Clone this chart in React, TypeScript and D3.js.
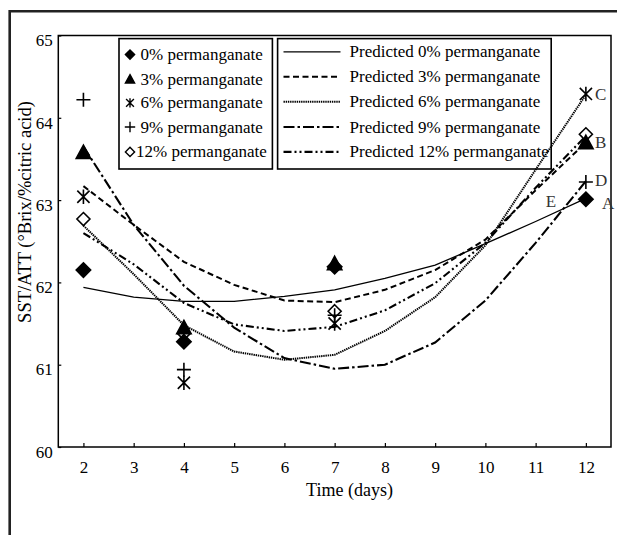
import React, { useEffect, useRef } from 'react';
import * as d3 from 'd3';

// observed values (days 2, 4, 7, 12)
const days = [2, 4, 7, 12];
const obs0 = [62.15, 61.28, 62.19, 63.01];
const obs3 = [63.58, 61.45, 62.23, 63.7];
const obs6 = [63.04, 60.78, 61.5, 64.29];
const obs9 = [64.22, 60.94, 61.6, 63.22];
const obs12 = [62.77, 61.38, 61.65, 63.8];

// predicted curves, one value per day
const predDays = [2, 3, 4, 5, 6, 7, 8, 9, 10, 11, 12];
const pred0 = [61.94, 61.82, 61.77, 61.77, 61.83, 61.91, 62.05, 62.21, 62.47, 62.74, 63.02];
const pred3 = [63.17, 62.7, 62.25, 61.97, 61.78, 61.76, 61.91, 62.15, 62.52, 63.12, 63.7];
const pred6 = [62.69, 62.1, 61.48, 61.16, 61.06, 61.12, 61.41, 61.82, 62.45, 63.37, 64.28];
const pred9 = [63.65, 62.7, 61.96, 61.45, 61.08, 60.95, 61.0, 61.27, 61.78, 62.48, 63.23];
const pred12 = [62.6, 62.22, 61.75, 61.49, 61.41, 61.46, 61.66, 61.99, 62.48, 63.15, 63.78];

const xTicks = [2, 3, 4, 5, 6, 7, 8, 9, 10, 11, 12];
const yTicks = [60, 61, 62, 63, 64, 65];

const obsLabels = ['0% permanganate', '3% permanganate', '6% permanganate', '9% permanganate', '12% permanganate'];
const predLabels = ['Predicted 0% permanganate', 'Predicted 3% permanganate', 'Predicted 6% permanganate', 'Predicted 9% permanganate', 'Predicted 12% permanganate'];

// end letters: label, value it sits beside
const endLetters = [
  { t: 'C', v: 64.29 },
  { t: 'B', v: 63.7 },
  { t: 'D', v: 63.22 },
  { t: 'A', v: 63.01 },
];

const markerPath = (kind: string, r: number) => {
  if (kind === 'diamond' || kind === 'odiamond') return `M0,${-r}L${r},0L0,${r}L${-r},0Z`;
  if (kind === 'triangle') return `M0,${-r}L${r},${r * 0.85}L${-r},${r * 0.85}Z`;
  if (kind === 'asterisk') {
    const a = r * 0.85;
    return `M${-a},${-a}L${a},${a}M${a},${-a}L${-a},${a}M0,${-r}V${r}`;
  }
  return `M${-r},0H${r}M0,${-r}V${r}`;
};

const App = () => {
  const ref = useRef<SVGSVGElement | null>(null);

  useEffect(() => {
    const width = 617;
    const height = 535;
    const left = 58.3, right = 611, top = 35.5, bottom = 447;
    const font = '"Liberation Serif", "Times New Roman", serif';
    const ink = '#000';

    const svg = d3.select(ref.current);
    svg.selectAll('*').remove();

    const x = d3.scaleLinear().domain([1.5, 12.5]).range([left, right]);
    const y = d3.scaleLinear().domain([60, 65]).range([bottom, top]);

    svg.append('rect').attr('width', width).attr('height', height).attr('fill', '#fff');

    // outer frame (right and bottom edges fall outside the picture)
    svg.append('path')
      .attr('d', `M9.7,${height + 5}V11.2H${width + 5}`)
      .attr('fill', 'none').attr('stroke', '#222').attr('stroke-width', 2.6);

    // axes
    const gx = svg.append('g').attr('transform', `translate(0,${bottom})`)
      .call(d3.axisBottom(x).tickValues(xTicks).tickSize(-4).tickSizeOuter(0).tickPadding(13.5).tickFormat(d3.format('d')));
    gx.select('.domain').remove();
    gx.selectAll('text').attr('font-size', 17).attr('font-family', font).attr('fill', ink);
    gx.selectAll('line').attr('stroke', ink).attr('stroke-width', 1.2);

    const gy = svg.append('g').attr('transform', `translate(${left},0)`)
      .call(d3.axisLeft(y).tickValues(yTicks).tickSize(-3).tickSizeOuter(0).tickPadding(5.5).tickFormat(d3.format('d')));
    gy.select('.domain').remove();
    gy.selectAll('text').attr('font-size', 17).attr('font-family', font).attr('fill', ink).attr('dy', '0.6em');
    gy.selectAll('line').attr('stroke', ink).attr('stroke-width', 1.2);

    svg.append('rect')
      .attr('x', left).attr('y', top).attr('width', right - left).attr('height', bottom - top)
      .attr('fill', 'none').attr('stroke', ink).attr('stroke-width', 1.5);

    // titles
    svg.append('text')
      .attr('transform', 'translate(31,212) rotate(-90)')
      .attr('text-anchor', 'middle').attr('font-size', 18.5).attr('font-family', font).attr('fill', ink)
      .text('SST/ATT (°Brix/%citric acid)');
    svg.append('text')
      .attr('x', 349.5).attr('y', 496)
      .attr('text-anchor', 'middle').attr('font-size', 18).attr('font-family', font).attr('fill', ink)
      .text('Time (days)');

    const lineStyles = [
      { w: 1.3, dash: null },
      { w: 2, dash: '6,3.5' },
      { w: 2, dash: '1.4,0.8' },
      { w: 2.1, dash: '11,3,2.5,3' },
      { w: 2.1, dash: '8,3,2,3,2,3' },
    ];
    const preds = [pred0, pred3, pred6, pred9, pred12];
    const obs = [obs0, obs3, obs6, obs9, obs12];
    const kinds = ['diamond', 'triangle', 'asterisk', 'plus', 'odiamond'];

    // legends (no fill so curves stay visible)
    const box1 = { x0: 119, x1: 272.4, y0: 38.6, y1: 169 };
    const box2 = { x0: 277.6, x1: 551.2, y0: 38.6, y1: 169 };
    [box1, box2].forEach(b => {
      svg.append('rect')
        .attr('x', b.x0).attr('y', b.y0).attr('width', b.x1 - b.x0).attr('height', b.y1 - b.y0)
        .attr('fill', 'none').attr('stroke', ink).attr('stroke-width', 1.6);
    });

    const rows1 = [54.6, 79.2, 102.8, 127, 151.9];
    const rows2 = [51.9, 76.8, 101.7, 127, 151.9];

    obsLabels.forEach((t, i) => {
      const k = kinds[i];
      svg.append('path')
        .attr('transform', `translate(130,${rows1[i]})`)
        .attr('d', markerPath(k, k === 'plus' ? 5.2 : 4.6))
        .attr('fill', k === 'diamond' || k === 'triangle' ? ink : 'none')
        .attr('stroke', ink).attr('stroke-width', 1.4);
      svg.append('text')
        .attr('x', i === 4 ? 136 : 140.5).attr('y', rows1[i] + 5.5)
        .attr('font-size', 17).attr('font-family', font).attr('fill', ink)
        .text(t);
    });

    predLabels.forEach((t, i) => {
      const s = lineStyles[i];
      svg.append('line')
        .attr('x1', 283.5).attr('x2', 340.5).attr('y1', rows2[i]).attr('y2', rows2[i])
        .attr('stroke', ink).attr('stroke-width', s.w)
        .attr('stroke-dasharray', s.dash);
      svg.append('text')
        .attr('x', 349.6).attr('y', rows2[i] + 5.5)
        .attr('font-size', 17).attr('font-family', font).attr('fill', ink)
        .text(t);
    });

    // predicted curves
    const line = d3.line<number>()
      .x((d, i) => x(predDays[i]))
      .y(d => y(d));
    preds.forEach((p, i) => {
      const s = lineStyles[i];
      svg.append('path')
        .attr('d', line(p))
        .attr('fill', 'none').attr('stroke', ink)
        .attr('stroke-width', s.w)
        .attr('stroke-dasharray', s.dash);
    });

    // observed markers
    obs.forEach((vals, i) => {
      const k = kinds[i];
      svg.append('g').selectAll('path')
        .data(vals)
        .enter()
        .append('path')
        .attr('transform', (d, j) => `translate(${x(days[j])},${y(d)})`)
        .attr('d', markerPath(k, k === 'plus' ? 7 : k === 'asterisk' ? 7.2 : k === 'odiamond' ? 6.5 : 7.2))
        .attr('fill', k === 'diamond' || k === 'triangle' ? ink : 'none')
        .attr('stroke', ink)
        .attr('stroke-width', 1.6);
    });

    // letters beside the day-12 points
    endLetters.forEach(l => {
      svg.append('text')
        .attr('x', l.t === 'A' ? x(12) + 16 : x(12) + 9)
        .attr('y', y(l.v) + (l.t === 'A' ? 10 : l.t === 'D' ? 4 : 6))
        .attr('font-size', 17).attr('font-family', font).attr('fill', '#333')
        .text(l.t);
    });
    svg.append('text')
      .attr('x', x(11.2)).attr('y', y(63.01) + 8)
      .attr('font-size', 17).attr('font-family', font).attr('fill', '#333')
      .text('E');
  }, []);

  return (
    <svg ref={ref} width={617} height={535} style={{ position: 'absolute', left: 0, top: 0 }} />
  );
};

export default App;
